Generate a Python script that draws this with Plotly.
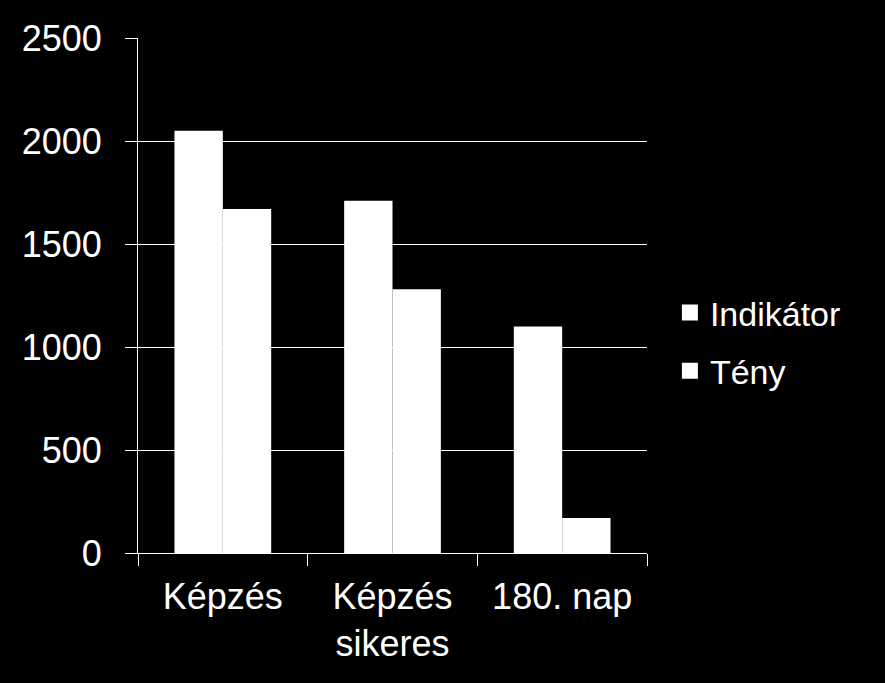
import plotly.graph_objects as go

categories = ["Képzés", "Képzés<br>sikeres", "180. nap"]
indikator = [2050, 1710, 1100]
teny = [1670, 1280, 170]
y_ticks = [0, 500, 1000, 1500, 2000, 2500]
series_names = ["Indikátor", "Tény"]

fig = go.Figure()
for name, vals in zip(series_names, [indikator, teny]):
    fig.add_trace(go.Bar(name=name, x=categories, y=vals, showlegend=False,
                         marker=dict(color="white", line=dict(width=0))))
# legend entries with larger square swatches
for name in series_names:
    fig.add_trace(go.Scatter(name=name, x=[None], y=[None], mode="markers",
                             legendgroup=name,
                             marker=dict(symbol="square", size=19, color="white")))

fig.update_layout(
    width=885, height=683,
    paper_bgcolor="black", plot_bgcolor="black",
    font=dict(family="Liberation Sans, Arial, sans-serif", color="white", size=36),
    margin=dict(l=138, r=238, t=38, b=130),
    barmode="group", bargap=0.43, bargroupgap=0,
    showlegend=True,
    legend=dict(x=1.045, y=0.41, xanchor="left", yanchor="middle",
                font=dict(size=34, color="white"), bgcolor="rgba(0,0,0,0)",
                tracegroupgap=11, itemwidth=30, itemsizing="trace"),
)
fig.update_xaxes(
    type="category", showgrid=False, showline=True, linecolor="white", linewidth=1,
    ticks="outside", tickson="boundaries", ticklen=12, tickcolor="white", tickwidth=1,
    tickfont=dict(size=36, color="white"), ticklabelstandoff=12,
)
fig.update_yaxes(
    range=[0, 2500], tickvals=y_ticks, showgrid=True, gridcolor="white", gridwidth=1,
    showline=True, linecolor="white", linewidth=1, zeroline=False,
    ticks="outside", ticklen=12, tickcolor="white", tickwidth=1,
    tickfont=dict(size=36, color="white"), ticklabelstandoff=16,
)

fig.write_html("out.html", config={"displayModeBar": False},
               post_script="document.body.style.margin='0';document.body.style.background='black';")
